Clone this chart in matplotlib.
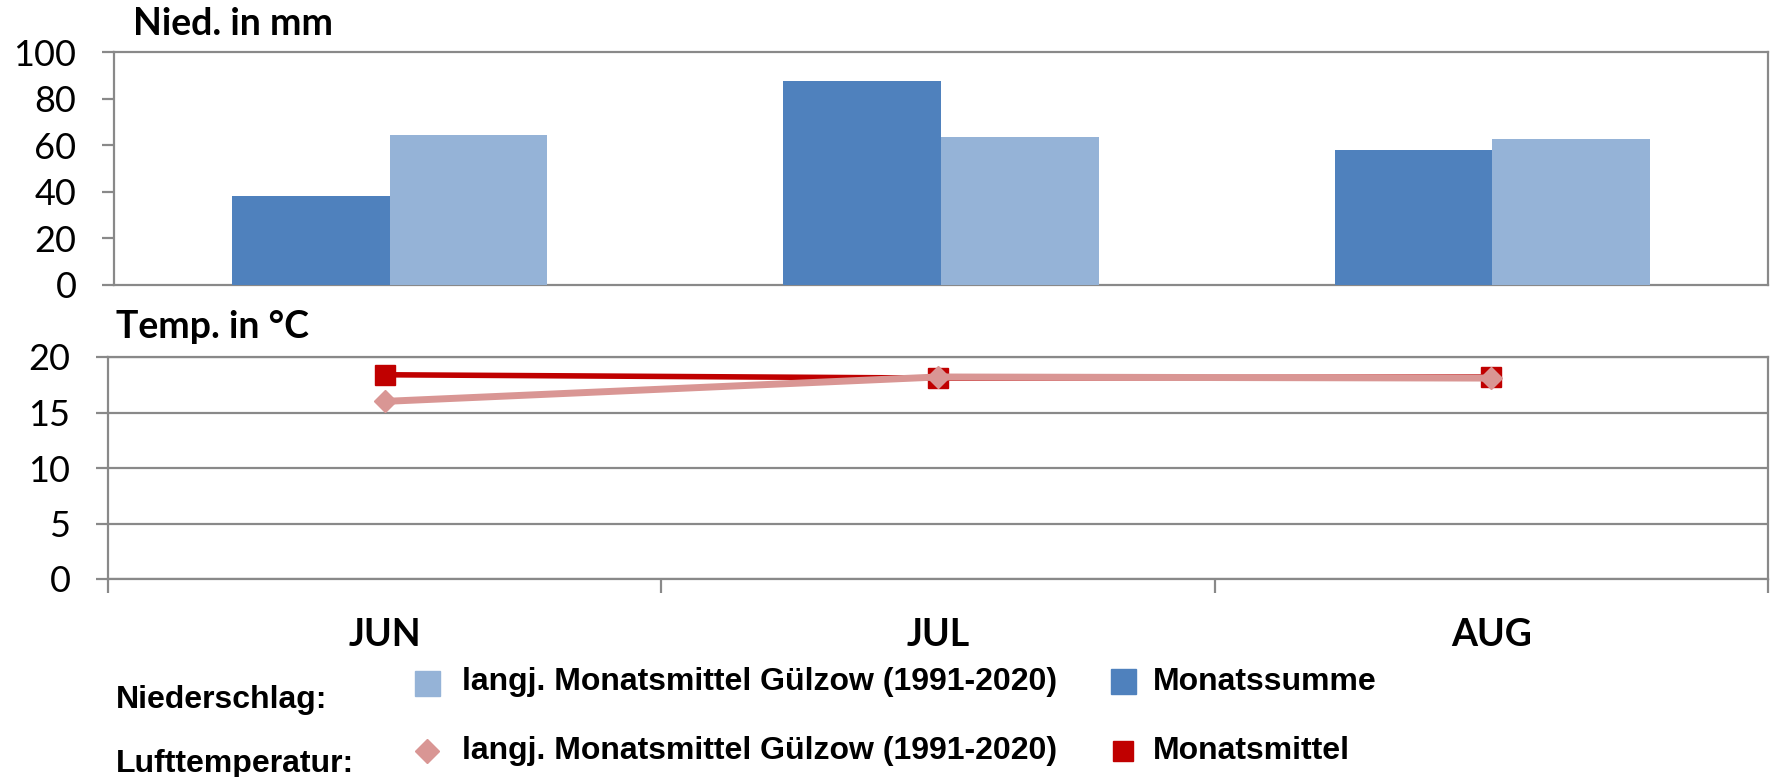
import matplotlib
matplotlib.use('Agg')
import matplotlib.pyplot as plt
from matplotlib.lines import Line2D
from matplotlib import font_manager

# Data
months = ['JUN', 'JUL', 'AUG']
nied_summe = [38.0, 87.5, 58.0]        # Monatssumme
nied_langj = [64.2, 63.7, 62.7]        # langj. Monatsmittel 1991-2020
temp_mittel = [18.4, 18.1, 18.2]       # Monatsmittel
temp_langj = [16.0, 18.2, 18.1]        # langj. Monatsmittel 1991-2020

# Colors
DARK_BLUE = '#4F81BD'
LIGHT_BLUE = '#95B3D7'
RED = '#C00000'
PINK = '#D99694'
GRID = '#898989'

names = {f.name for f in font_manager.fontManager.ttflist}
NARROW = 'Liberation Sans Narrow' if 'Liberation Sans Narrow' in names else 'Liberation Sans'
MAIN = 'Lato'

W, H = 1770, 777
fig = plt.figure(figsize=(W / 100, H / 100), dpi=100)


def box(left, top, right, bottom):
    return [left / W, 1 - bottom / H, (right - left) / W, (bottom - top) / H]


x = list(range(len(months)))
bw = 0.2857

# Precipitation panel
ax1 = fig.add_axes(box(114, 52, 1768, 285))
ax1.bar([i - bw / 2 for i in x], nied_summe, width=bw, color=DARK_BLUE, zorder=3)
ax1.bar([i + bw / 2 for i in x], nied_langj, width=bw, color=LIGHT_BLUE, zorder=3)
ax1.set_xlim(-0.5, 2.5)
ax1.set_ylim(0, 100)
ax1.set_yticks(range(0, 101, 20))
ax1.set_xticks([])
ax1.text(133 / W, 1 - 24 / H, 'Nied. in mm', transform=fig.transFigure,
         fontsize=27, fontweight='bold', family=MAIN, va='center', ha='left')

# Temperature panel
ax2 = fig.add_axes(box(108, 357, 1768, 579))
ax2.plot(x, temp_mittel, color=RED, linewidth=4, marker='s', markersize=15, zorder=3)
ax2.plot(x, temp_langj, color=PINK, linewidth=5, marker='D', markersize=11, zorder=4)
ax2.set_xlim(-0.5, 2.5)
ax2.set_ylim(0, 20)
ax2.set_yticks(range(0, 21, 5))
ax2.grid(True, axis='y', color=GRID, linewidth=1.6, zorder=0)
ax2.set_xticks([-0.5, 0.5, 1.5, 2.5])
ax2.set_xticklabels([])
ax2.set_xticks(x, minor=True)
ax2.set_xticklabels(months, minor=True, fontsize=27, fontweight='bold', family=MAIN)
ax2.tick_params(axis='x', which='minor', length=0, pad=28)
ax2.tick_params(axis='x', which='major', length=10, width=1.6, color=GRID, direction='out')
ax2.text(116 / W, 1 - 327 / H, 'Temp. in °C', transform=fig.transFigure,
         fontsize=27, fontweight='bold', family=MAIN, va='center', ha='left')

for ax in (ax1, ax2):
    for s in ax.spines.values():
        s.set_color(GRID)
        s.set_linewidth(1.6)
    ax.tick_params(axis='y', length=9, width=1.6, color=GRID, direction='out',
                   labelsize=26, pad=18)
    for lbl in ax.get_yticklabels():
        lbl.set_family(MAIN)

# Legend (drawn by hand)
def fx(px):
    return px / W


def fy(py):
    return 1 - py / H


fig.text(fx(116), fy(700), 'Niederschlag:', family=NARROW, fontweight='bold',
         fontsize=23, va='center', ha='left')
fig.text(fx(116), fy(764), 'Lufttemperatur:', family=NARROW, fontweight='bold',
         fontsize=23, va='center', ha='left')

fig.add_artist(Line2D([fx(427)], [fy(683)], marker='s', markersize=18, color=LIGHT_BLUE,
                      linestyle='none', transform=fig.transFigure))
fig.add_artist(Line2D([fx(1123)], [fy(681)], marker='s', markersize=18, color=DARK_BLUE,
                      linestyle='none', transform=fig.transFigure))
fig.add_artist(Line2D([fx(427)], [fy(751)], marker='D', markersize=12, color=PINK,
                      linestyle='none', transform=fig.transFigure))
fig.add_artist(Line2D([fx(1123)], [fy(751)], marker='s', markersize=14, color=RED,
                      linestyle='none', transform=fig.transFigure))

leg_label = 'langj. Monatsmittel Gülzow (1991-2020)'
fig.text(fx(462), fy(682), leg_label, family=NARROW, fontweight='bold',
         fontsize=23, va='center', ha='left')
fig.text(fx(1153), fy(682), 'Monatssumme', family=NARROW, fontweight='bold',
         fontsize=23, va='center', ha='left')
fig.text(fx(462), fy(751), leg_label, family=NARROW, fontweight='bold',
         fontsize=23, va='center', ha='left')
fig.text(fx(1153), fy(751), 'Monatsmittel', family=NARROW, fontweight='bold',
         fontsize=23, va='center', ha='left')

fig.savefig('out.png', dpi=100, facecolor='white')
